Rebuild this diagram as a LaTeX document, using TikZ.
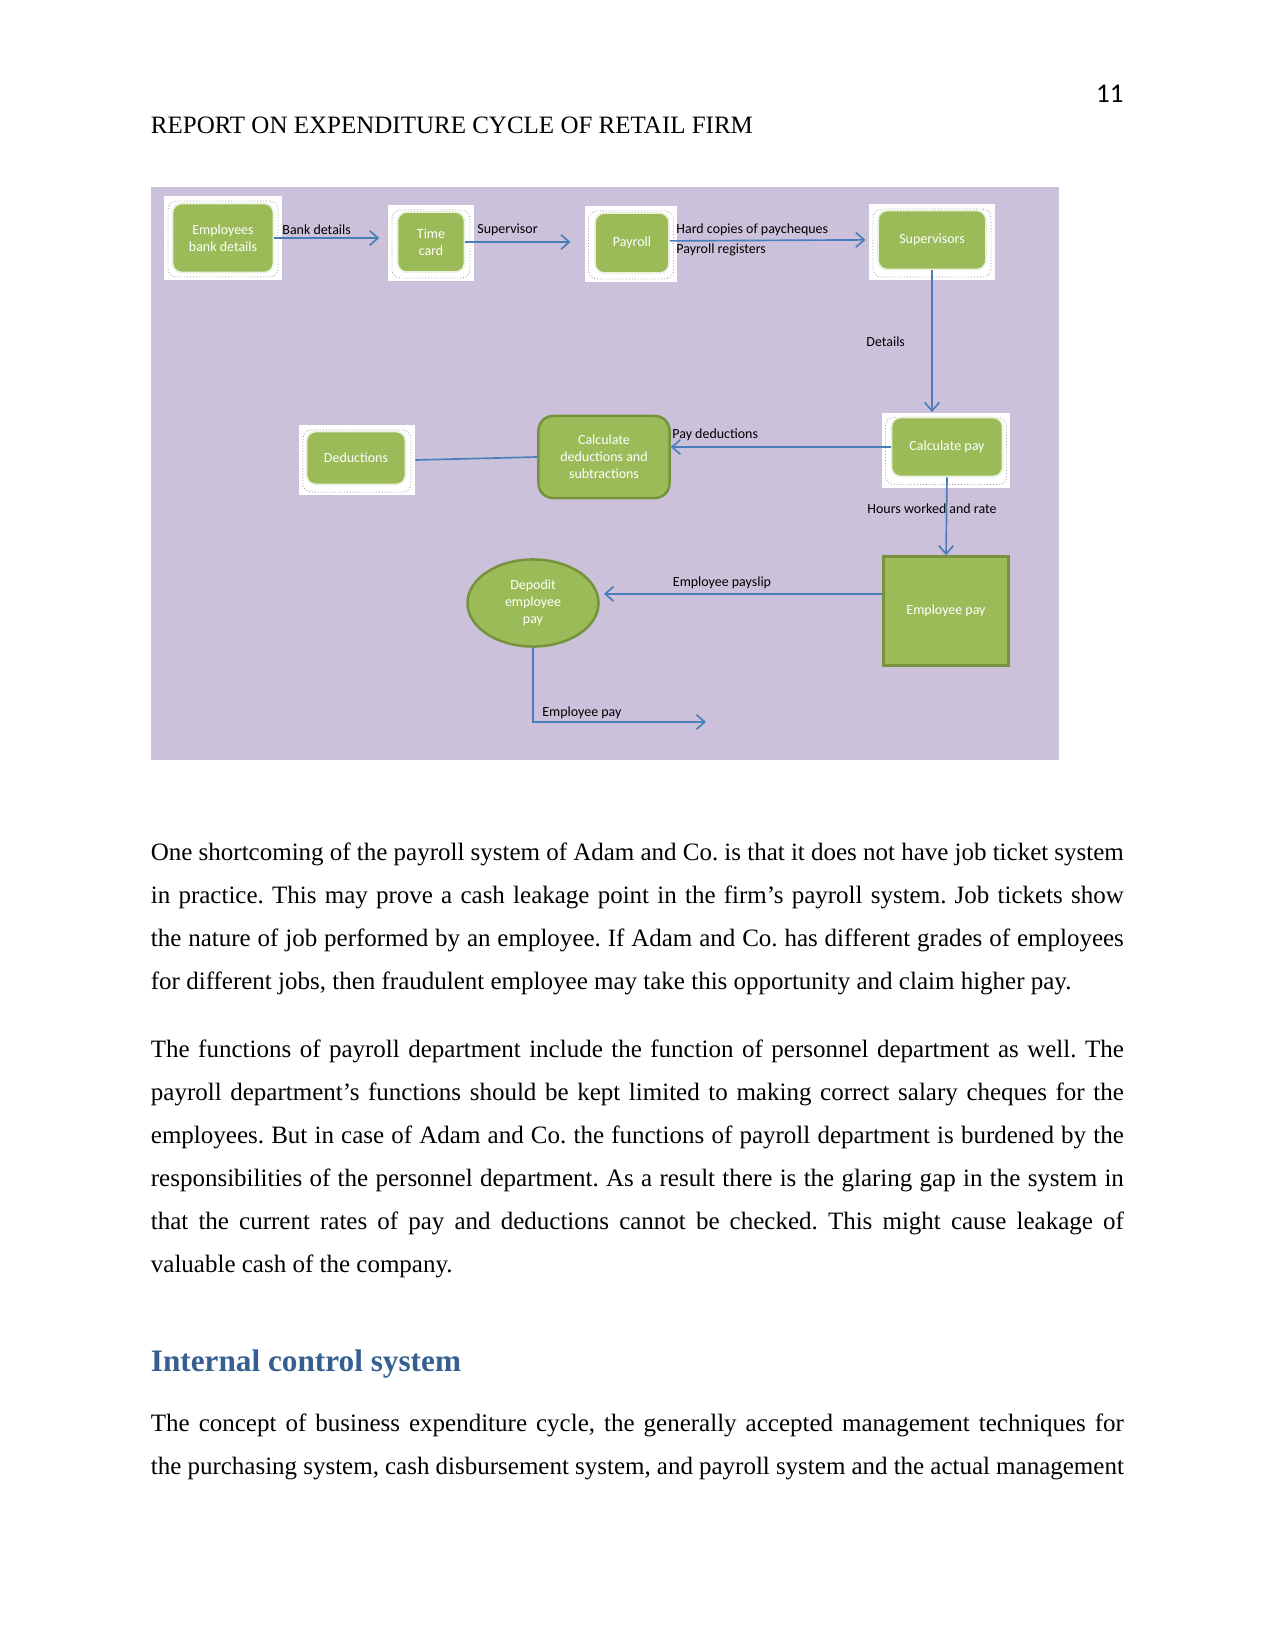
\documentclass[tikz,border=0pt]{standalone}
\usepackage{fontspec}
\setmainfont{Liberation Serif}
\newfontfamily\calibri{Carlito}
\usetikzlibrary{shapes.geometric, arrows.meta}

\definecolor{lavender}{RGB}{204,193,218}
\definecolor{boxgreen}{RGB}{155,187,89}
\definecolor{darkgreen}{RGB}{118,146,60}
\definecolor{flowblue}{RGB}{74,126,187}
\definecolor{headblue}{RGB}{54,95,145}

\begin{document}
\begin{tikzpicture}[
    x=0.48pt, y=-0.48pt,
    font=\calibri\fontsize{6.7}{8.1}\selectfont,
    backbox/.style={
        fill=white,
        draw=none,
        inner sep=0pt
    },
    dotbox/.style={
        draw=gray!80,
        densely dotted,
        line width=0.4pt,
        rounded corners=4pt,
        inner sep=0pt
    },
    greenbox/.style={
        fill=boxgreen,
        draw=white!80!boxgreen,
        line width=0.8pt,
        rounded corners=4.5pt,
        text=white,
        align=center,
        inner sep=0pt
    },
    procbox/.style={
        fill=boxgreen,
        draw=darkgreen,
        line width=1.2pt,
        text=white,
        align=center,
        inner sep=0pt
    },
    flow/.style={
        draw=flowblue,
        line width=0.8pt,
        -{Straight Barb[length=4pt, width=7pt]}
    },
    link/.style={
        draw=flowblue,
        line width=0.8pt
    },
    lbl/.style={
        text=black,
        inner sep=0pt
    },
    bodytext/.style={
        font=\rmfamily\fontsize{12}{20.64}\selectfont,
        text width=467pt,
        align=justify,
        anchor=base west,
        inner sep=0pt
    }
]

    % Page
    \useasboundingbox (0,0) rectangle (1275,1651);
    \fill[white] (0,0) rectangle (1275,1651);

    % Header
    \node[anchor=base west, inner sep=0pt, font=\rmfamily\fontsize{12}{14}\selectfont] (header) at (150.5,134) {REPORT ON EXPENDITURE CYCLE OF RETAIL FIRM};
    \node[anchor=base east, inner sep=0pt, font=\calibri\fontsize{13}{15}\selectfont] (pagenum) at (1124,103) {11};

    % Diagram background
    \fill[lavender] (150.5,187) rectangle (1059,760);

    % Labels (under the connectors)
    \node[lbl, anchor=west] (lblbank) at (282,230) {Bank details};
    \node[lbl, anchor=west] (lblsup) at (477,230) {Supervisor};
    \node[lbl, anchor=west] (lblhard) at (676,230) {Hard copies of paycheques};
    \node[lbl, anchor=west] (lblreg) at (676,250) {Payroll registers};
    \node[lbl, anchor=west] (lbldetails) at (866,342) {Details};
    \node[lbl, anchor=west] (lblpayded) at (672,435) {Pay deductions};
    \node[lbl] (lblhours) at (932,509) {Hours worked and rate};
    \node[lbl] (lblpayslip) at (722,583) {Employee payslip};
    \node[lbl, anchor=west] (lblout) at (542,713) {Employee pay};

    % Employees bank details
    \node[backbox, minimum width=56.6pt, minimum height=40.3pt] (empback) at (223,238) {};
    \node[dotbox, minimum width=52.8pt, minimum height=36.5pt] (empdots) at (223,239) {};
    \node[greenbox, minimum width=48.5pt, minimum height=33.1pt] (emp) at (223,238) {Employees\\bank details};

    % Time card
    \node[backbox, minimum width=41.3pt, minimum height=36.5pt] (timeback) at (431,243) {};
    \node[dotbox, minimum width=37.4pt, minimum height=32.6pt] (timedots) at (431,244) {};
    \node[greenbox, minimum width=32.2pt, minimum height=28.8pt] (time) at (431,242) {Time\\card};

    % Payroll
    \node[backbox, minimum width=44.6pt, minimum height=36.5pt] (payback) at (631,244) {};
    \node[dotbox, minimum width=40.8pt, minimum height=32.6pt] (paydots) at (631,245) {};
    \node[greenbox, minimum width=35.5pt, minimum height=28.8pt] (payroll) at (632,243) {Payroll};

    % Supervisors
    \node[backbox, minimum width=60.5pt, minimum height=36.5pt] (supback) at (932,242) {};
    \node[dotbox, minimum width=56.6pt, minimum height=32.6pt] (supdots) at (932,243) {};
    \node[greenbox, minimum width=51.8pt, minimum height=28.3pt] (super) at (932,240) {Supervisors};

    % Calculate pay
    \node[backbox, minimum width=61.9pt, minimum height=36pt] (calcback) at (946,450) {};
    \node[dotbox, minimum width=58.1pt, minimum height=32.2pt] (calcdots) at (946,451) {};
    \node[greenbox, minimum width=53.3pt, minimum height=28.3pt] (calcpay) at (947,447) {Calculate pay};

    % Deductions
    \node[backbox, minimum width=55.7pt, minimum height=33.6pt] (dedback) at (357,460) {};
    \node[dotbox, minimum width=51.8pt, minimum height=29.8pt] (deddots) at (357,461) {};
    \node[greenbox, minimum width=47.5pt, minimum height=25.4pt] (ded) at (356,458) {Deductions};

    % Calculate deductions and subtractions
    \node[procbox, rounded corners=7pt, minimum width=62.9pt, minimum height=39.4pt] (calcded) at (604,457) {Calculate\\deductions and\\subtractions};

    % Employee pay
    \node[procbox, minimum width=60pt, minimum height=52.3pt] (emppay) at (946,611) {Employee pay};

    % Depodit employee pay
    \node[procbox, ellipse, minimum width=62.9pt, minimum height=41.8pt] (deposit) at (533,603) {Depodit\\employee\\pay};

    \coordinate (payout) at (706,722);

    % Connectors
    \draw[flow] (emp.east) -- ([xshift=-4pt]emp.east -| timeback.west);
    \draw[flow] (time.east) -- ([xshift=-6.5pt]time.east -| payback.west);
    \draw[flow] ([yshift=1pt]payroll.east) -- ([xshift=-1.5pt, yshift=1.5pt]payroll.east -| supback.west);
    \draw[flow] (super.south) -- (super.south |- calcback.north);
    \draw[flow] (calcpay.west) -- (calcpay.west -| calcded.east);
    \draw[link] (calcded.west) -- (dedback.east);
    \draw[flow] (calcpay.south) -- (emppay.north);
    \draw[flow] (emppay.165) -- ([xshift=2pt]emppay.165 -| deposit.east);
    \draw[flow] (deposit.south) -- (deposit.south |- payout) -- (payout);

    % Body text
    \node[bodytext] (para1) at (150.5,860) {\frenchspacing One shortcoming of the payroll system of Adam and Co.\ is that it does not have job ticket system\linebreak in practice. This may prove a cash leakage point in the firm’s payroll system. Job tickets show\linebreak the nature of job performed by an employee. If Adam and Co.\ has different grades of employees\linebreak for different jobs, then fraudulent employee may take this opportunity and claim higher pay.};

    \node[bodytext] (para2) at (150.5,1057) {\frenchspacing The functions of payroll department include the function of personnel department as well. The\linebreak payroll department’s functions should be kept limited to making correct salary cheques for the\linebreak employees. But in case of Adam and Co.\ the functions of payroll department is burdened by the\linebreak responsibilities of the personnel department. As a result there is the glaring gap in the system in\linebreak that the current rates of pay and deductions cannot be checked. This might cause leakage of\linebreak valuable cash of the company.};

    % Heading
    \node[anchor=base west, inner sep=0pt, text=headblue, font=\rmfamily\bfseries\fontsize{15}{17}\selectfont] (heading) at (150.5,1371) {Internal control system};

    \node[bodytext] (para3) at (150.5,1431) {\frenchspacing\parfillskip=0pt The concept of business expenditure cycle, the generally accepted management techniques for\linebreak the purchasing system, cash disbursement system, and payroll system and the actual management};

\end{tikzpicture}
\end{document}
